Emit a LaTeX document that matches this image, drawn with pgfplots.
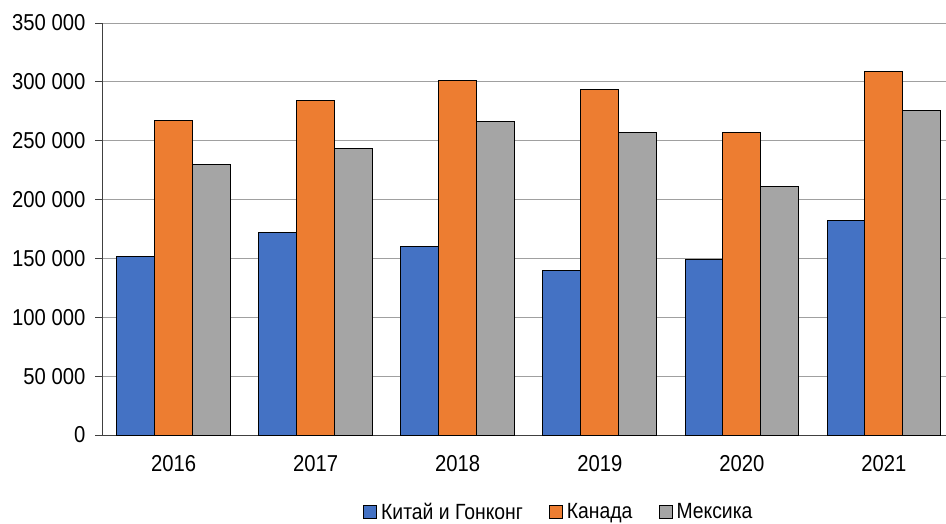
\documentclass[border=0pt]{standalone}
\usepackage{fontspec}
\setmainfont{Liberation Sans}[FakeStretch=0.88]
\usepackage{pgfplots}
\pgfplotsset{compat=1.18}
\definecolor{cblue}{HTML}{4472C4}
\definecolor{corange}{HTML}{ED7D31}
\definecolor{cgray}{HTML}{A5A5A5}
\definecolor{cgrid}{HTML}{A0A0A0}
\definecolor{caxis}{HTML}{404040}
\begin{document}
\begin{tikzpicture}[x=1pt,y=1pt]
\path[use as bounding box] (0,0) rectangle (946,523);
\begin{axis}[
  at={(102.5pt,88pt)}, anchor=south west,
  scale only axis, width=843.5pt, height=412pt,
  xmin=-0.5, xmax=5.437, ymin=0, ymax=350000,
  scaled y ticks=false,
  axis x line*=bottom, axis y line*=left,
  axis line style={caxis, line width=1pt},
  xtick={0,1,2,3,4,5},
  xticklabels={2016,2017,2018,2019,2020,2021},
  x tick style={draw=none},
  ytick={0,50000,100000,150000,200000,250000,300000,350000},
  yticklabels={0,50 000,100 000,150 000,200 000,250 000,300 000,350 000},
  tick align=outside, major tick length=7pt,
  y tick style={caxis, line width=1pt},
  ymajorgrids, grid style={cgrid, line width=1pt},
  every tick label/.append style={font=\fontsize{23}{27}\selectfont, inner sep=0pt},
  yticklabel style={anchor=east},
  xticklabel style={anchor=north},
  x tick label style={yshift=-13pt},
  y tick label style={xshift=-10pt},
  legend style={at={(0.541,-0.186)}, anchor=center, draw=none,
    font=\fontsize{22}{26}\selectfont, legend columns=-1,
    /tikz/every odd column/.append style={column sep=2pt},
    /tikz/every even column/.append style={column sep=24pt}},
  legend image code/.code={\draw[#1] (0pt,-6.5pt) rectangle (13pt,6.5pt);},
  clip=false,
]
\addplot[ybar, bar width=0.2667, bar shift=-0.2667, fill=cblue, draw=black, line width=1pt]
  coordinates {(0,151500) (1,172000) (2,160500) (3,139500) (4,149000) (5,182600)};
\addplot[ybar, bar width=0.2667, bar shift=0, fill=corange, draw=black, line width=1pt]
  coordinates {(0,267200) (1,283800) (2,300900) (3,293500) (4,256800) (5,308500)};
\addplot[ybar, bar width=0.2667, bar shift=0.2667, fill=cgray, draw=black, line width=1pt]
  coordinates {(0,230000) (1,243500) (2,266000) (3,256800) (4,211300) (5,276000)};
\legend{Китай и Гонконг, Канада, Мексика}
\end{axis}
\end{tikzpicture}
\end{document}
